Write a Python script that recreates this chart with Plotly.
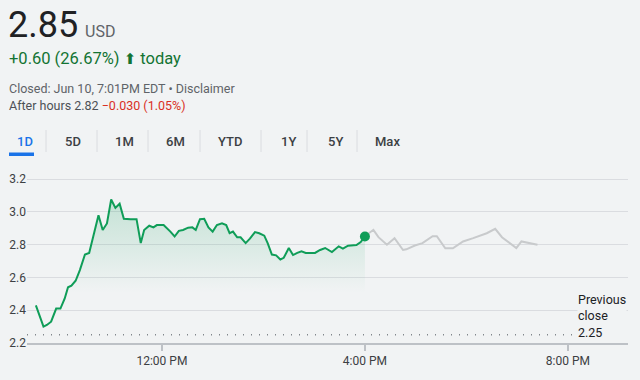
import plotly.graph_objects as go

DAY = "2024-06-10 "

# Regular session (time, price)
session_times = ["09:31", "09:37", "09:40", "09:44", "09:49", "09:55", "10:00", "10:05", "10:09", "10:13",
                 "10:18", "10:23", "10:29", "10:34", "10:39", "10:45", "10:50", "10:55", "11:00", "11:05",
                 "11:10", "11:15", "11:23", "11:30", "11:35", "11:39", "11:45", "11:50", "11:54", "12:02",
                 "12:10", "12:15", "12:20", "12:25", "12:31", "12:36", "12:40", "12:45", "12:50", "12:55",
                 "13:00", "13:05", "13:11", "13:16", "13:20", "13:24", "13:29", "13:33", "13:39", "13:44",
                 "13:50", "13:55", "14:01", "14:05", "14:10", "14:15", "14:20", "14:24", "14:30", "14:35",
                 "14:40", "14:45", "14:50", "15:01", "15:07", "15:13", "15:21", "15:29", "15:34", "15:40",
                 "15:50", "15:55", "16:00"]
session_prices = [2.43, 2.34, 2.30, 2.31, 2.33, 2.41, 2.41, 2.47, 2.54, 2.55,
                  2.58, 2.645, 2.74, 2.75, 2.85, 2.98, 2.89, 2.93, 3.076, 3.025,
                  3.05, 2.958, 2.955, 2.956, 2.81, 2.89, 2.916, 2.906, 2.92, 2.92,
                  2.88, 2.85, 2.885, 2.89, 2.904, 2.906, 2.89, 2.956, 2.958, 2.906,
                  2.88, 2.92, 2.93, 2.92, 2.87, 2.88, 2.845, 2.845, 2.81, 2.837,
                  2.877, 2.87, 2.855, 2.81, 2.74, 2.735, 2.71, 2.72, 2.78, 2.737,
                  2.75, 2.76, 2.75, 2.75, 2.768, 2.78, 2.755, 2.79, 2.776, 2.794,
                  2.798, 2.816, 2.85]

# After-hours (time, price)
after_times = ["16:00", "16:10", "16:16", "16:26", "16:35", "16:45", "16:49", "16:59", "17:08", "17:20",
               "17:25", "17:35", "17:44", "17:56", "18:08", "18:24", "18:34", "18:42", "18:59", "19:05",
               "19:24"]
after_prices = [2.852, 2.891, 2.846, 2.80, 2.84, 2.768, 2.772, 2.795, 2.81, 2.852,
                2.852, 2.778, 2.778, 2.82, 2.84, 2.87, 2.897, 2.846, 2.78, 2.82,
                2.80]

previous_close = 2.25
y_ticks = [2.2, 2.4, 2.6, 2.8, 3.0, 3.2]
x_ticks = ["12:00", "16:00", "20:00"]
x_tick_labels = ["12:00 PM", "4:00 PM", "8:00 PM"]
tabs = ["1D", "5D", "1M", "6M", "YTD", "1Y", "5Y", "Max"]

BG = "#f1f3f4"
GREEN = "#0f9d58"
FONT = "Roboto"

W, H = 640, 380
L, R, T, B = 27, 628, 171, 343


def px(x):
    return (x - L) / (R - L)


def py(y):
    return (B - y) / (B - T)


sx = [DAY + t for t in session_times]
ax = [DAY + t for t in after_times]

fig = go.Figure()

fig.add_trace(go.Scatter(
    x=ax, y=after_prices, mode="lines",
    line=dict(color="#c8cacc", width=2), hoverinfo="skip", showlegend=False))

fig.add_trace(go.Scatter(
    x=sx, y=session_prices, mode="lines",
    line=dict(color=GREEN, width=2),
    fill="tozeroy",
    fillgradient=dict(type="vertical", start=2.5, stop=3.08,
                      colorscale=[[0, "rgba(15,157,88,0.0)"], [1, "rgba(15,157,88,0.20)"]]),
    hoverinfo="skip", showlegend=False))

fig.add_trace(go.Scatter(
    x=[sx[-1]], y=[session_prices[-1]], mode="markers",
    marker=dict(color=GREEN, size=10), hoverinfo="skip", showlegend=False))

# previous close dotted line
fig.add_shape(type="line", xref="paper", yref="y", x0=0, x1=px(578),
              y0=previous_close, y1=previous_close,
              line=dict(color="#80868b", width=1.5, dash="1px,7px"))

ann = []


def text(x, y, s, size, color, xanchor="left", weight=None):
    f = dict(family=FONT, size=size, color=color)
    if weight:
        f["weight"] = weight
    ann.append(dict(xref="paper", yref="paper", x=px(x), y=py(y), text=s,
                    showarrow=False, xanchor=xanchor, yanchor="middle", font=f))


text(6, 25, "2.85", 36, "#202124")
text(83, 31.5, "USD", 16, "#5f6368")
text(7, 59, "+0.60 (26.67%) <span style='font-family:DejaVu Sans;font-size:15px'>⬆</span> today", 16.5, "#137333")
text(7, 88, "Closed: Jun 10, 7:01PM EDT • Disclaimer", 12.5, "#5f6368")
text(7, 105, "After hours 2.82 <span style='color:#d93025'>−0.030 (1.05%)</span>", 12.5, "#4d5156")

tab_x = [25, 73, 124, 175, 230, 288, 335, 387]
for i, (t, x) in enumerate(zip(tabs, tab_x)):
    text(x, 141, t, 13, "#1a73e8" if i == 0 else "#3c4043", xanchor="center", weight=500)
for sxp in [46, 97, 148, 200, 261, 307, 357]:
    fig.add_shape(type="line", xref="paper", yref="paper", x0=px(sxp), x1=px(sxp),
                  y0=py(130), y1=py(152), line=dict(color="#dadce0", width=1))
fig.add_shape(type="rect", xref="paper", yref="paper", x0=px(9), x1=px(34),
              y0=py(156), y1=py(152.5), line=dict(width=0), fillcolor="#1a73e8")

ann.append(dict(xref="paper", yref="paper", x=px(577), y=py(291),
                text="Previous<br>close<br>2.25", showarrow=False, xanchor="left", yanchor="top",
                align="left", bgcolor=BG, borderpad=0,
                font=dict(family=FONT, size=12.5, color="#202124")))

fig.update_layout(
    width=W, height=H,
    margin=dict(l=L, r=W - R, t=T, b=H - B, pad=0, autoexpand=False),
    paper_bgcolor=BG, plot_bgcolor=BG,
    annotations=ann,
    showlegend=False,
    xaxis=dict(
        type="date", automargin=False,
        range=[DAY + "09:20:30", DAY + "21:11"],
        tickvals=[DAY + t for t in x_ticks], ticktext=x_tick_labels,
        ticks="outside", ticklen=6, tickcolor="#bdc1c6", tickwidth=1.5,
        showgrid=False, zeroline=False,
        showline=True, linecolor="#bdc1c6", linewidth=2,
        tickfont=dict(family=FONT, size=12, color="#3c4043"),
        fixedrange=True,
    ),
    yaxis=dict(
        range=[2.2, 3.25], automargin=False,
        tickvals=y_ticks, ticktext=[f"{v:.1f}" for v in y_ticks],
        ticks="", showgrid=True, gridcolor="#dadce0", gridwidth=1,
        zeroline=False, showline=False,
        tickfont=dict(family=FONT, size=12, color="#3c4043"),
        fixedrange=True,
    ),
)

fig.write_html("out.html", config={"displayModeBar": False},
               post_script="document.body.style.margin='0';document.body.style.background='%s';" % BG)
